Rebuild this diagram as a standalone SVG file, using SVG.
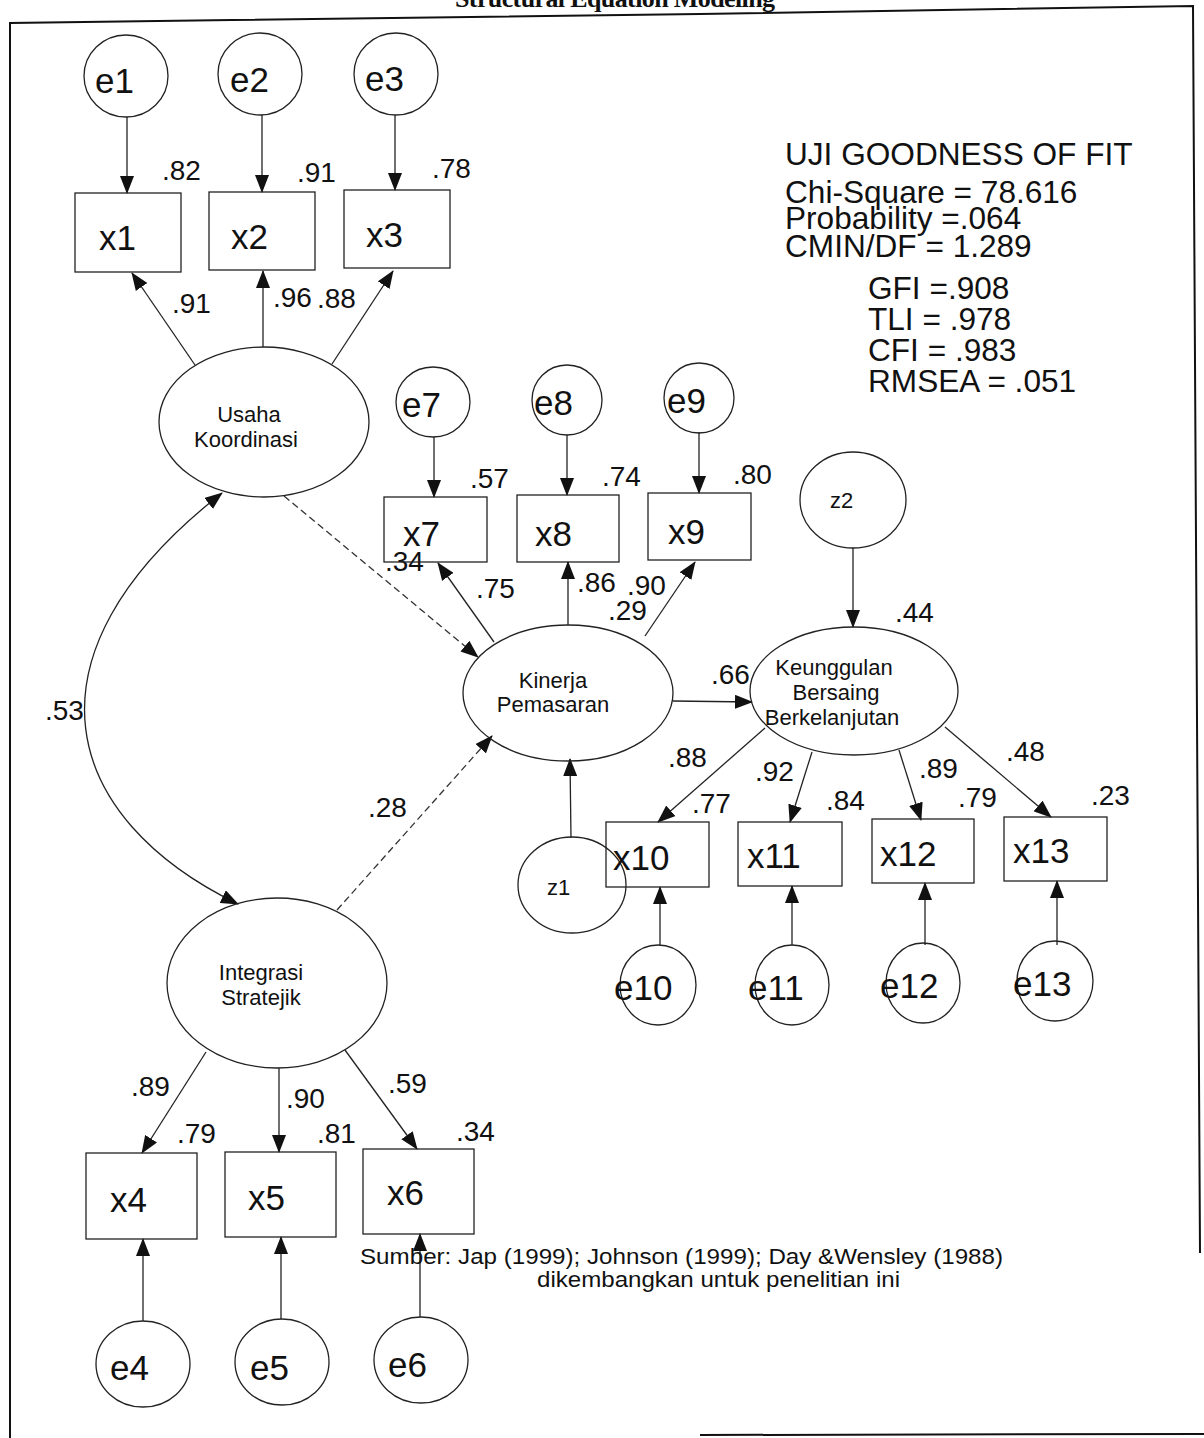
<svg xmlns="http://www.w3.org/2000/svg" width="1204" height="1438" viewBox="0 0 1204 1438">
<defs>
<style>
.ln{stroke:#222;stroke-width:1.3;fill:none}
.dl{stroke:#333;stroke-width:1.3;fill:none;stroke-dasharray:7 4}
.nd{stroke:#222;stroke-width:1.3;fill:none}
.fr{stroke:#111;stroke-width:2;fill:none}
text{font-family:"Liberation Sans",Arial,sans-serif;fill:#111}
.lb{font-size:35px}
.ld{font-size:28px}
.lt{font-size:22px}
.ft{font-size:31.6px}
.src{font-size:22px}
</style>
<marker id="ah" viewBox="0 0 18 14" refX="17" refY="7" markerWidth="18" markerHeight="14" markerUnits="userSpaceOnUse" orient="auto-start-reverse"><path d="M0,0 L18,7 L0,14 z" fill="#111"/></marker>
</defs>
<rect width="1204" height="1438" fill="#fff"/>
<text x="615" y="7" font-weight="bold" font-size="26" text-anchor="middle" textLength="320" style="font-family:'Liberation Serif',serif">Structural Equation Modeling</text>
<path class="fr" d="M10,1438 L10,23 L232,20 L700,14 L1193,6 L1200,1253"/>
<path class="fr" d="M700,1435 L1204,1434"/>

<g id="connectors">
<line class="ln" x1="127" y1="117" x2="127" y2="193" marker-end="url(#ah)"/>
<line class="ln" x1="262" y1="115" x2="262" y2="192" marker-end="url(#ah)"/>
<line class="ln" x1="395" y1="115" x2="395" y2="190" marker-end="url(#ah)"/>
<line class="ln" x1="195" y1="365" x2="132" y2="273" marker-end="url(#ah)"/>
<line class="ln" x1="263" y1="347" x2="263" y2="271" marker-end="url(#ah)"/>
<line class="ln" x1="332" y1="364" x2="393" y2="271" marker-end="url(#ah)"/>
<line class="dl" x1="284" y1="496" x2="478" y2="657" marker-end="url(#ah)"/>
<path class="ln" d="M222,493 C12,657 63,819 238,904" marker-start="url(#ah)" marker-end="url(#ah)"/>
<line class="dl" x1="337" y1="910" x2="492" y2="736" marker-end="url(#ah)"/>
<line class="ln" x1="434" y1="437" x2="434" y2="497" marker-end="url(#ah)"/>
<line class="ln" x1="567" y1="435" x2="567" y2="495" marker-end="url(#ah)"/>
<line class="ln" x1="699" y1="432" x2="699" y2="493" marker-end="url(#ah)"/>
<line class="ln" x1="494" y1="642" x2="438" y2="563" marker-end="url(#ah)"/>
<line class="ln" x1="568" y1="625" x2="568" y2="562" marker-end="url(#ah)"/>
<line class="ln" x1="645" y1="636" x2="695" y2="562" marker-end="url(#ah)"/>
<line class="ln" x1="673" y1="701" x2="752" y2="702" marker-end="url(#ah)"/>
<line class="ln" x1="571" y1="838" x2="570" y2="759" marker-end="url(#ah)"/>
<line class="ln" x1="853" y1="548" x2="853" y2="627" marker-end="url(#ah)"/>
<line class="ln" x1="765" y1="728" x2="658" y2="822" marker-end="url(#ah)"/>
<line class="ln" x1="812" y1="752" x2="790" y2="822" marker-end="url(#ah)"/>
<line class="ln" x1="899" y1="750" x2="921" y2="820" marker-end="url(#ah)"/>
<line class="ln" x1="945" y1="727" x2="1051" y2="817" marker-end="url(#ah)"/>
<line class="ln" x1="660" y1="945" x2="660" y2="887" marker-end="url(#ah)"/>
<line class="ln" x1="792" y1="945" x2="792" y2="886" marker-end="url(#ah)"/>
<line class="ln" x1="925" y1="945" x2="925" y2="883" marker-end="url(#ah)"/>
<line class="ln" x1="1057" y1="945" x2="1057" y2="881" marker-end="url(#ah)"/>
<line class="ln" x1="206" y1="1052" x2="142" y2="1153" marker-end="url(#ah)"/>
<line class="ln" x1="279" y1="1068" x2="279" y2="1152" marker-end="url(#ah)"/>
<line class="ln" x1="345" y1="1050" x2="417" y2="1149" marker-end="url(#ah)"/>
<line class="ln" x1="143" y1="1321" x2="143" y2="1239" marker-end="url(#ah)"/>
<line class="ln" x1="281" y1="1319" x2="281" y2="1237" marker-end="url(#ah)"/>
<line class="ln" x1="420" y1="1317" x2="420" y2="1234" marker-end="url(#ah)"/>
<text class="ld" x="172" y="313">.91</text>
<text class="ld" x="273" y="307">.96</text>
<text class="ld" x="317" y="308">.88</text>
<text class="ld" x="45" y="720">.53</text>
<text class="ld" x="368" y="817">.28</text>
<text class="ld" x="385" y="571">.34</text>
<text class="ld" x="476" y="598">.75</text>
<text class="ld" x="577" y="592">.86</text>
<text class="ld" x="627" y="595">.90</text>
<text class="ld" x="608" y="620">.29</text>
<text class="ld" x="711" y="684">.66</text>
<text class="ld" x="668" y="767">.88</text>
<text class="ld" x="755" y="781">.92</text>
<text class="ld" x="919" y="778">.89</text>
<text class="ld" x="1006" y="761">.48</text>
<text class="ld" x="131" y="1096">.89</text>
<text class="ld" x="286" y="1108">.90</text>
<text class="ld" x="388" y="1093">.59</text>
</g>

<g id="e1"><ellipse class="nd" cx="126" cy="76" rx="42" ry="41"/><text class="lb" x="95" y="93">e1</text></g>
<g id="e2"><ellipse class="nd" cx="260" cy="74" rx="42" ry="41"/><text class="lb" x="230" y="92">e2</text></g>
<g id="e3"><ellipse class="nd" cx="396" cy="74" rx="42" ry="41"/><text class="lb" x="365" y="91">e3</text></g>
<g id="x1"><rect class="nd" x="75" y="193" width="106" height="79"/><text class="lb" x="99" y="250">x1</text><text class="ld" x="162" y="180">.82</text></g>
<g id="x2"><rect class="nd" x="209" y="192" width="106" height="78"/><text class="lb" x="231" y="249">x2</text><text class="ld" x="297" y="182">.91</text></g>
<g id="x3"><rect class="nd" x="344" y="190" width="106" height="78"/><text class="lb" x="366" y="247">x3</text><text class="ld" x="432" y="178">.78</text></g>
<g id="usaha"><ellipse class="nd" cx="264" cy="422" rx="105" ry="75"/><text class="lt" x="249" y="422" text-anchor="middle">Usaha</text><text class="lt" x="246" y="447" text-anchor="middle">Koordinasi</text></g>
<g id="e7"><ellipse class="nd" cx="433" cy="402" rx="37" ry="35"/><text class="lb" x="402" y="417">e7</text></g>
<g id="e8"><ellipse class="nd" cx="567" cy="400" rx="35" ry="35"/><text class="lb" x="534" y="415">e8</text></g>
<g id="e9"><ellipse class="nd" cx="699" cy="398" rx="35" ry="35"/><text class="lb" x="667" y="413">e9</text></g>
<g id="x7"><rect class="nd" x="384" y="497" width="103" height="65"/><text class="lb" x="403" y="546">x7</text><text class="ld" x="470" y="488">.57</text></g>
<g id="x8"><rect class="nd" x="517" y="495" width="102" height="67"/><text class="lb" x="535" y="546">x8</text><text class="ld" x="602" y="486">.74</text></g>
<g id="x9"><rect class="nd" x="648" y="493" width="103" height="67"/><text class="lb" x="668" y="544">x9</text><text class="ld" x="733" y="484">.80</text></g>
<g id="kinerja"><ellipse class="nd" cx="568" cy="693" rx="105" ry="68"/><text class="lt" x="553" y="688" text-anchor="middle">Kinerja</text><text class="lt" x="553" y="712" text-anchor="middle">Pemasaran</text></g>
<g id="z2"><ellipse class="nd" cx="853" cy="500" rx="53" ry="48"/><text class="lt" x="830" y="508">z2</text></g>
<g id="keunggulan"><ellipse class="nd" cx="854" cy="691" rx="104" ry="64"/><text class="lt" x="834" y="675" text-anchor="middle">Keunggulan</text><text class="lt" x="836" y="700" text-anchor="middle">Bersaing</text><text class="lt" x="832" y="725" text-anchor="middle">Berkelanjutan</text><text class="ld" x="895" y="622">.44</text></g>
<g id="z1"><ellipse class="nd" cx="572" cy="885" rx="54" ry="48"/><text class="lt" x="547" y="895">z1</text></g>
<g id="x10"><rect class="nd" x="606" y="822" width="103" height="65"/><text class="lb" x="613" y="870">x10</text><text class="ld" x="692" y="813">.77</text></g>
<g id="x11"><rect class="nd" x="738" y="822" width="104" height="64"/><text class="lb" x="747" y="868">x11</text><text class="ld" x="826" y="810">.84</text></g>
<g id="x12"><rect class="nd" x="872" y="819" width="102" height="64"/><text class="lb" x="880" y="866">x12</text><text class="ld" x="958" y="807">.79</text></g>
<g id="x13"><rect class="nd" x="1004" y="817" width="103" height="64"/><text class="lb" x="1013" y="863">x13</text><text class="ld" x="1091" y="805">.23</text></g>
<g id="e10"><ellipse class="nd" cx="658" cy="985" rx="38" ry="40"/><text class="lb" x="614" y="1000">e10</text></g>
<g id="e11"><ellipse class="nd" cx="792" cy="985" rx="37" ry="40"/><text class="lb" x="748" y="1000">e11</text></g>
<g id="e12"><ellipse class="nd" cx="923" cy="983" rx="37" ry="40"/><text class="lb" x="880" y="998">e12</text></g>
<g id="e13"><ellipse class="nd" cx="1055" cy="981" rx="38" ry="40"/><text class="lb" x="1013" y="996">e13</text></g>
<g id="integrasi"><ellipse class="nd" cx="277" cy="983" rx="110" ry="85"/><text class="lt" x="261" y="980" text-anchor="middle">Integrasi</text><text class="lt" x="261" y="1005" text-anchor="middle">Stratejik</text></g>
<g id="x4"><rect class="nd" x="86" y="1153" width="111" height="86"/><text class="lb" x="110" y="1212">x4</text><text class="ld" x="177" y="1143">.79</text></g>
<g id="x5"><rect class="nd" x="225" y="1152" width="111" height="85"/><text class="lb" x="248" y="1210">x5</text><text class="ld" x="317" y="1143">.81</text></g>
<g id="x6"><rect class="nd" x="363" y="1149" width="111" height="85"/><text class="lb" x="387" y="1205">x6</text><text class="ld" x="456" y="1141">.34</text></g>
<g id="e4"><ellipse class="nd" cx="143" cy="1364" rx="47" ry="43"/><text class="lb" x="110" y="1380">e4</text></g>
<g id="e5"><ellipse class="nd" cx="282" cy="1362" rx="47" ry="43"/><text class="lb" x="250" y="1380">e5</text></g>
<g id="e6"><ellipse class="nd" cx="421" cy="1360" rx="47" ry="43"/><text class="lb" x="388" y="1377">e6</text></g>

<g id="fit">
<text class="ft" x="785" y="165">UJI GOODNESS OF FIT</text>
<text class="ft" x="785" y="203">Chi-Square = 78.616</text>
<text class="ft" x="785" y="229">Probability =.064</text>
<text class="ft" x="785" y="257">CMIN/DF = 1.289</text>
<text class="ft" x="868" y="299">GFI =.908</text>
<text class="ft" x="868" y="330">TLI = .978</text>
<text class="ft" x="868" y="361">CFI = .983</text>
<text class="ft" x="868" y="392">RMSEA = .051</text>
</g>
<g id="source">
<text class="src" x="360" y="1264" textLength="643" lengthAdjust="spacingAndGlyphs">Sumber: Jap (1999); Johnson (1999); Day &amp;Wensley (1988)</text>
<text class="src" x="537" y="1287" textLength="363" lengthAdjust="spacingAndGlyphs">dikembangkan untuk penelitian ini</text>
</g>
</svg>
